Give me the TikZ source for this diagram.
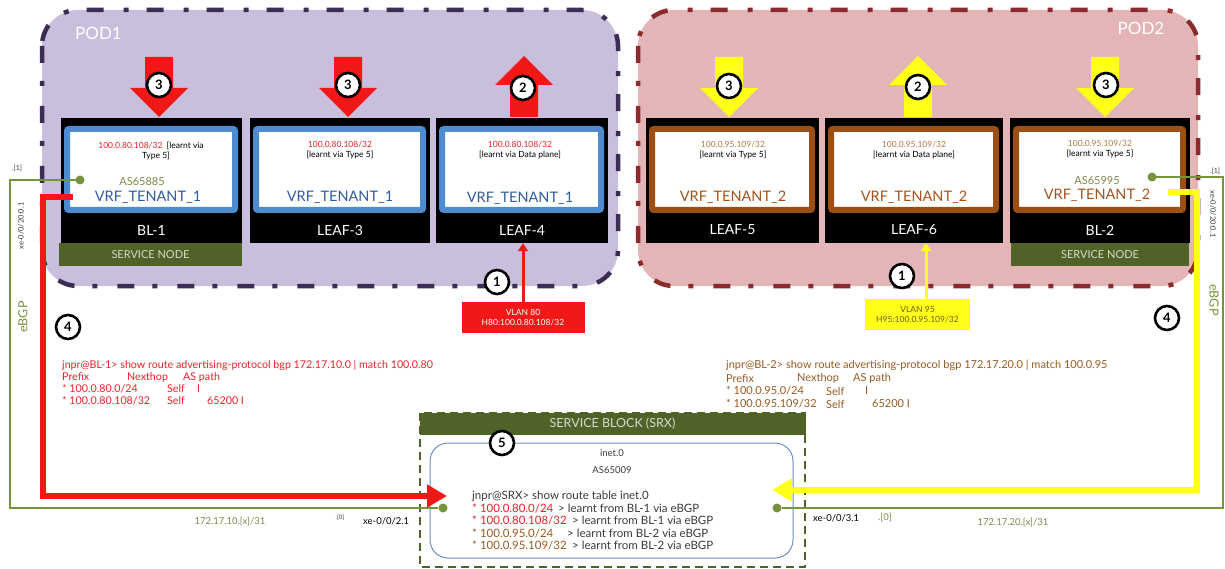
\documentclass[tikz,border=0pt]{standalone}
\usepackage{fontspec}
\setmainfont{Lato}
\usetikzlibrary{arrows.meta}

\definecolor{podAfill}{HTML}{C9BEDB}
\definecolor{podAline}{HTML}{3B2D55}
\definecolor{podBfill}{HTML}{E4B5B7}
\definecolor{podBline}{HTML}{8C2B2E}
\definecolor{vrfblue}{HTML}{4F8BD0}
\definecolor{vrfbluetxt}{HTML}{2E5D9F}
\definecolor{vrfbrown}{HTML}{9C4F12}
\definecolor{vrfbrowntxt}{HTML}{A3541E}
\definecolor{smallbrown}{HTML}{B07A45}
\definecolor{svcgreen}{HTML}{4F6228}
\definecolor{svctxt}{HTML}{D8DCC8}
\definecolor{bgpgreen}{HTML}{77933C}
\definecolor{asgreen}{HTML}{7A8A4A}
\definecolor{flowred}{HTML}{F21818}
\definecolor{flowyellow}{HTML}{FFFF1A}
\definecolor{srxframe}{HTML}{6C8EBF}
\definecolor{clired}{HTML}{E8242A}
\definecolor{clibrown}{HTML}{9A5B22}
\definecolor{clidark}{HTML}{3A3A3A}
\definecolor{vlantxt}{HTML}{7A5A10}

\tikzset{
  pod/.style={line width=4.5pt, rounded corners=36pt,
    dash pattern=on 17pt off 18pt on 5pt off 20pt},
  podlabel/.style={text=white, font=\fontsize{17}{17}\selectfont, inner sep=0pt},
  devbox/.style={fill=black, minimum height=125pt, inner sep=0pt},
  frame/.style={line width=6pt, fill=white, rounded corners=2pt},
  devlabel/.style={text=white, font=\fontsize{14}{14}\selectfont, inner sep=0pt},
  small/.style={font=\fontsize{8.5}{10}\selectfont, align=center, inner sep=0pt, text=black},
  asn/.style={font=\fontsize{11}{11}\selectfont, text=asgreen, inner sep=0pt},
  vrf/.style={font=\fontsize{14.5}{15}\selectfont, inner sep=0pt},
  svcnode/.style={fill=svcgreen, text=svctxt, minimum height=23pt, inner sep=0pt,
    font=\fontsize{11}{11}\selectfont},
  numc/.style={circle, draw=black, line width=2.6pt, fill=white, minimum size=24pt,
    inner sep=0pt, font=\fontsize{13}{13}\selectfont\bfseries},
  bgp/.style={draw=bgpgreen, line width=2pt},
  bgpdot/.style={circle, fill=bgpgreen, minimum size=9pt, inner sep=0pt},
  redpath/.style={draw=flowred, line width=6pt, line join=miter,
    -{Triangle[length=20pt,width=22pt]}},
  yelpath/.style={draw=flowyellow, line width=6pt, line join=miter,
    -{Triangle[length=20pt,width=22pt]}},
  vlanbox/.style={minimum height=31pt, inner sep=0pt, align=center,
    font=\fontsize{8.5}{10}\selectfont},
  clileft/.style={font=\fontsize{10.7}{10.7}\selectfont, inner sep=0pt, anchor=west, text=clired},
  cliright/.style={font=\fontsize{11}{11}\selectfont, inner sep=0pt, anchor=west, text=clibrown},
  srxcli/.style={font=\fontsize{11.5}{11.5}\selectfont, inner sep=0pt, anchor=west, text=clidark},
  tiny/.style={font=\fontsize{9.5}{9.5}\selectfont, inner sep=0pt},
}

% black device box with its coloured VRF frame and name
\newcommand\devicebox[5]{%
  \node[devbox, minimum width={#3-#2}] (#1) at ({(#2+#3)/2},180.5) {};
  \draw[frame, draw=#4] ({#2+6},129) rectangle ({#3-7},210);
  \node[devlabel] (#1-lbl) at ({(#2+#3)/2},230) {#5};
}
% block arrows: centre x, colour
\newcommand\blkdown[2]{%
  \fill[#2] (#1-14,57) -- (#1+14,57) -- (#1+14,88) -- (#1+29,88) -- (#1,117)
    -- (#1-29,88) -- (#1-14,88) -- cycle;}
\newcommand\blkup[2]{%
  \fill[#2] (#1-14,117) -- (#1+14,117) -- (#1+14,85) -- (#1+29,85) -- (#1,56)
    -- (#1-29,85) -- (#1-14,85) -- cycle;}

\begin{document}
\begin{tikzpicture}[x=1pt,y=-1pt]
\useasboundingbox (0,0) rectangle (1225,569);
\fill[white] (0,0) rectangle (1225,569);

% ---------- pods ----------
\draw[pod, fill=podAfill, draw=podAline] (42,10) rectangle (618,286);
\node[podlabel, anchor=west] (pod1) at (75,33) {POD1};
\draw[pod, fill=podBfill, draw=podBline] (638,10) rectangle (1198,286);
\node[podlabel] (pod2) at (1141,28) {POD2};

% ---------- route flow arrows ----------
\blkdown{159}{flowred}
\blkdown{348}{flowred}
\blkup{524}{flowred}
\blkdown{729}{flowyellow}
\blkup{918}{flowyellow}
\blkdown{1105}{flowyellow}

% ---------- devices ----------
\devicebox{bl1}{61}{242}{vrfblue}{BL-1}
\devicebox{leaf3}{250}{430}{vrfblue}{LEAF-3}
\devicebox{leaf4}{436}{608}{vrfblue}{LEAF-4}
\devicebox{leaf5}{646}{819}{vrfbrown}{LEAF-5}
\devicebox{leaf6}{825}{1003}{vrfbrown}{LEAF-6}
\devicebox{bl2}{1010}{1190}{vrfbrown}{BL-2}

\node[svcnode, minimum width=183pt] (bl1-svc) at (150.5,254.5) {SERVICE NODE};
\node[svcnode, minimum width=178pt] (bl2-svc) at (1100,254.5) {SERVICE NODE};

% POD1 VRF contents
\node[small] (bl1-rt) at (151,151) {\textcolor{clired}{100.0.80.108/32}\enspace[learnt via\\\hspace*{10pt}Type 5]};
\node[asn] (bl1-as) at (142,182) {AS65885};
\node[vrf, text=vrfbluetxt] (bl1-vrf) at (148,197.5) {VRF\_TENANT\_1};

\node[small] (leaf3-rt) at (340,150) {\textcolor{clired}{100.0.80.108/32}\\{}[learnt via Type 5]};
\node[vrf, text=vrfbluetxt] (leaf3-vrf) at (340,197.5) {VRF\_TENANT\_1};

\node[small] (leaf4-rt) at (520,150.5) {\textcolor{clired}{100.0.80.108/32}\\{}[learnt via Data plane]};
\node[vrf, text=vrfbluetxt] (leaf4-vrf) at (520,198) {VRF\_TENANT\_1};

% POD2 VRF contents
\node[small] (leaf5-rt) at (733,150) {\textcolor{smallbrown}{100.0.95.109/32}\\{}[learnt via Type 5]};
\node[vrf, text=vrfbrowntxt] (leaf5-vrf) at (733,197) {VRF\_TENANT\_2};

\node[small] (leaf6-rt) at (914,150) {\textcolor{smallbrown}{100.0.95.109/32}\\{}[learnt via Data plane]};
\node[vrf, text=vrfbrowntxt] (leaf6-vrf) at (914,197) {VRF\_TENANT\_2};

\node[small] (bl2-rt) at (1100,149.5) {\textcolor{smallbrown}{100.0.95.109/32}\\{}[learnt via Type 5]};
\node[asn] (bl2-as) at (1097,181) {AS65995};
\node[vrf, text=vrfbrowntxt] (bl2-vrf) at (1097,195.5) {VRF\_TENANT\_2};

% ---------- step numbers on the pods ----------
\node[numc] (n3a) at (159,85) {3};
\node[numc] (n3b) at (348,85) {3};
\node[numc] (n2a) at (523,88) {2};
\node[numc] (n3c) at (729,86) {3};
\node[numc] (n2b) at (918,87) {2};
\node[numc] (n3d) at (1106,85) {3};

% ---------- host VLANs ----------
\node[vlanbox, fill=flowred, text=white, minimum width=123pt] (vlan80) at (523,317.5)
  {VLAN 80\\H80:100.0.80.108/32};
\draw[draw=flowred, line width=3pt, -{Triangle[length=8pt,width=10pt]}]
  (vlan80.north) -- (vlan80.north |- leaf4.south);
\node[vlanbox, fill=flowyellow, text=vlantxt, minimum width=105pt] (vlan95) at (917.5,314.5)
  {VLAN 95\\H95:100.0.95.109/32};
\coordinate (v95-top) at (926,299);
\draw[draw=flowyellow, line width=3pt, -{Triangle[length=8pt,width=10pt]}]
  (v95-top) -- (v95-top |- leaf6.south);
\node[numc] (n1a) at (497,282) {1};
\node[numc] (n1b) at (902,276) {1};

% ---------- service block ----------
\draw[draw=svcgreen, line width=2.5pt, dash pattern=on 8pt off 5pt] (420,413) rectangle (805,567);
\node[fill=svcgreen, text=svctxt, minimum width=386pt, minimum height=22pt, inner sep=0pt,
  font=\fontsize{12.5}{12.5}\selectfont] (srx-head) at (612.5,424) {SERVICE BLOCK (SRX)};
\node[draw=srxframe, line width=1pt, fill=white, rounded corners=18pt,
  minimum width=363pt, minimum height=115pt] (srx) at (611.5,500.5) {};
\node[numc] (n5) at (502,443) {5};
\node[tiny, text=clidark] (srx-tbl) at (612,453) {inet.0};
\node[tiny, text=clidark] (srx-as) at (612,470) {AS65009};

\node[srxcli] (srx-cmd) at (472,496) {jnpr@SRX> show route table inet.0};
\node[srxcli, text=clired] (srx-p1) at (472,508) {* 100.0.80.0/24};
\node[srxcli] (srx-v1) at (558,508) {> learnt from BL-1 via eBGP};
\node[srxcli, text=clired] (srx-p2) at (472,520) {* 100.0.80.108/32};
\node[srxcli] (srx-v2) at (572,520) {> learnt from BL-1 via eBGP};
\node[srxcli, text=clibrown] (srx-p3) at (472,533) {* 100.0.95.0/24};
\node[srxcli] (srx-v3) at (567,533) {> learnt from BL-2 via eBGP};
\node[srxcli, text=clibrown] (srx-p4) at (472,545) {* 100.0.95.109/32};
\node[srxcli] (srx-v4) at (572,545) {> learnt from BL-2 via eBGP};

% ---------- eBGP sessions ----------
\node[bgpdot] (bl1-dot) at (80,180) {};
\node[bgpdot] (bl2-dot) at (1152,177) {};
\node[bgpdot] (srx-dotL) at (443,508) {};
\node[bgpdot] (srx-dotR) at (777,508) {};
\coordinate (gl-corner) at (10,508);
\coordinate (gr-corner) at (1223,508);
\draw[bgp] (bl1-dot.center) -| (gl-corner) -- (srx-dotL);
\draw[bgp] (bl2-dot.center) -| (gr-corner) -- (srx-dotR);

% ---------- advertised routes towards the SRX ----------
\coordinate (rl-start) at (73,197);
\coordinate (rl-corner) at (43,496);
\coordinate (srx-redin) at (447,496);
\draw[redpath] (rl-start) -| (rl-corner) -- (srx-redin);
\coordinate (yl-start) at (1168,192);
\coordinate (yl-corner) at (1197,490);
\coordinate (srx-yelin) at (772,490);
\draw[yelpath] (yl-start) -| (yl-corner) -- (srx-yelin);

\node[numc] (n4a) at (68,327) {4};
\node[numc] (n4b) at (1167,318) {4};

% ---------- link labels ----------
\node[font=\fontsize{7}{7}\selectfont, text=clidark, inner sep=0pt] (l-if1) at (17,168) {.[1]};
\node[font=\fontsize{7.5}{7.5}\selectfont, text=clidark, inner sep=0pt, rotate=90] (l-xe) at (21,226) {xe-0/0/20:0.1};
\node[font=\fontsize{12.5}{12.5}\selectfont, text=bgpgreen, inner sep=0pt, rotate=90] (l-bgp) at (23,317) {eBGP};
\node[font=\fontsize{7}{7}\selectfont, text=clidark, inner sep=0pt] (r-if1) at (1215,171) {.[1]};
\node[font=\fontsize{7.5}{7.5}\selectfont, text=clidark, inner sep=0pt, rotate=-90] (r-xe) at (1213,214) {xe-0/0/20:0.1};
\node[font=\fontsize{12.5}{12.5}\selectfont, text=bgpgreen, inner sep=0pt, rotate=-90] (r-bgp) at (1214,300) {eBGP};

\node[tiny, text=asgreen] (l-net) at (230,522) {172.17.10.[x]/31};
\node[font=\fontsize{6}{6}\selectfont, text=clidark, inner sep=0pt] (l-if0) at (340,518) {.[0]};
\node[tiny, text=black, anchor=west] (l-srxif) at (363,521) {xe-0/0/2.1};
\node[tiny, text=black, anchor=west] (r-srxif) at (813,518) {xe-0/0/3.1};
\node[tiny, text=asgreen, anchor=west] (r-if0) at (878,518) {.[0]};
\node[tiny, text=asgreen] (r-net) at (1013,523) {172.17.20.[x]/31};

% ---------- advertised-route listings ----------
\begin{scope}[every node/.style={clileft}]
\node (l-cmd) at (62,365) {jnpr@BL-1> show route advertising-protocol bgp 172.17.10.0 | match 100.0.80};
\node (l-h1) at (62,377) {Prefix};
\node (l-h2) at (127,377) {Nexthop};
\node (l-h3) at (183,377) {AS path};
\node (l-r1) at (62,389) {* 100.0.80.0/24};
\node (l-r1n) at (167,389) {Self};
\node (l-r1a) at (197,389) {I};
\node (l-r2) at (62,401) {* 100.0.80.108/32};
\node (l-r2n) at (167,401) {Self};
\node (l-r2a) at (207,401) {65200 I};
\end{scope}
\begin{scope}[every node/.style={cliright}]
\node (r-cmd) at (726,365) {jnpr@BL-2> show route advertising-protocol bgp 172.17.20.0 | match 100.0.95};
\node (r-h1) at (726,378) {Prefix};
\node (r-h2) at (797,378) {Nexthop};
\node (r-h3) at (853,378) {AS path};
\node (r-r1) at (726,391) {* 100.0.95.0/24};
\node (r-r1n) at (826,391) {Self};
\node (r-r1a) at (865,391) {I};
\node (r-r2) at (726,404) {* 100.0.95.109/32};
\node (r-r2n) at (826,404) {Self};
\node (r-r2a) at (872,404) {65200 I};
\end{scope}
\end{tikzpicture}
\end{document}
